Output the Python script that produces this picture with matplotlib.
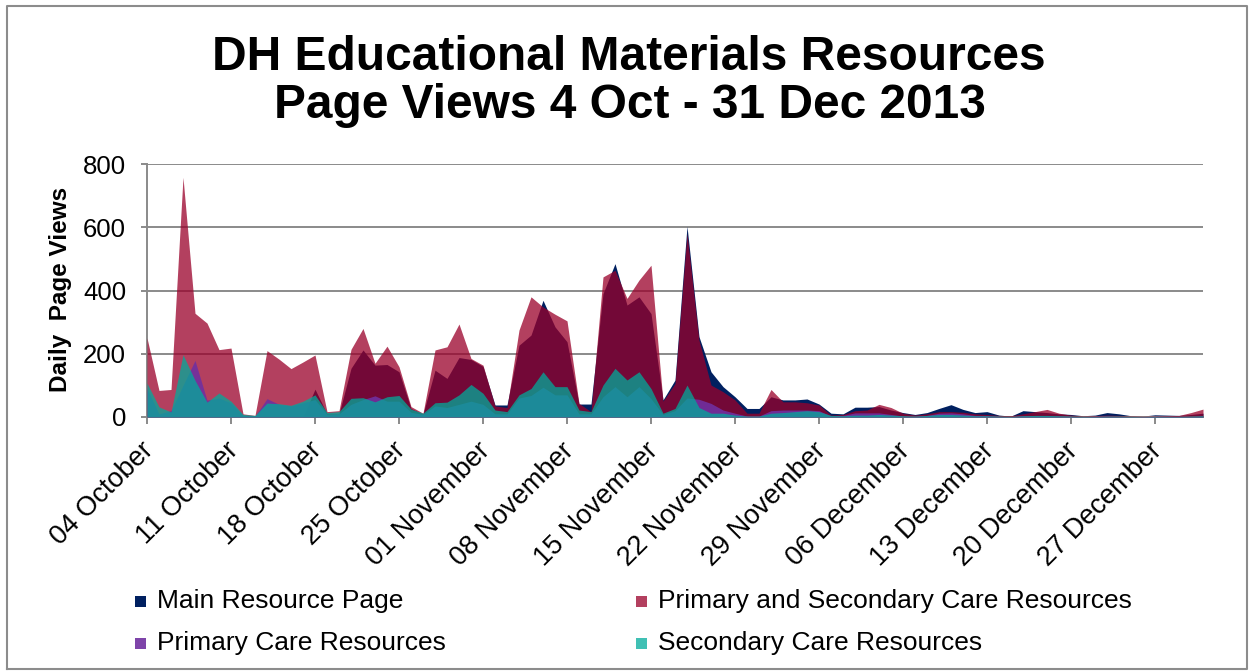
import numpy as np
import pandas as pd
import matplotlib
matplotlib.use("Agg")
import matplotlib.pyplot as plt
import matplotlib.dates as mdates
from matplotlib.patches import Rectangle
from matplotlib.lines import Line2D
from matplotlib.transforms import ScaledTranslation

plt.rcParams['font.family'] = ['Liberation Sans', 'DejaVu Sans']

# Daily page views, 4 Oct - 31 Dec 2013
dates = pd.date_range("2013-10-04", "2013-12-31", freq="D")

main_resource = [
    0, 0, 0, 0, 0, 0, 0, 0, 0, 0, 0, 0, 0, 0, 88, 10, 10, 154, 212, 164,
    166, 143, 27, 9, 148, 122, 188, 182, 160, 38, 38, 227, 259, 369, 285, 238,
    41, 41, 390, 485, 354, 380, 327, 54, 117, 603, 254, 143, 96, 64, 27, 27,
    64, 54, 54, 57, 41, 12, 10, 31, 31, 33, 22, 14, 8, 14, 27, 39, 24, 14,
    17, 6, 3, 20, 17, 14, 10, 8, 4, 6, 14, 10, 4, 3, 7, 6, 5, 8, 12,
]
primary_secondary = [
    250, 84, 87, 758, 328, 297, 213, 218, 10, 5, 210, 183, 153, 174, 196, 17,
    20, 214, 280, 170, 224, 159, 33, 12, 212, 222, 294, 185, 164, 35, 30, 275,
    380, 348, 325, 304, 43, 17, 443, 464, 375, 433, 480, 50, 106, 580, 243,
    101, 80, 54, 12, 12, 87, 48, 48, 45, 38, 6, 8, 20, 22, 40, 30, 12, 6, 10,
    17, 17, 15, 10, 8, 5, 4, 10, 17, 24, 12, 6, 3, 4, 6, 5, 3, 2, 3, 4, 5,
    14, 25,
]
primary_care = [
    90, 10, 20, 100, 179, 53, 60, 45, 5, 3, 58, 40, 35, 45, 55, 8, 10, 40, 55,
    67, 50, 50, 15, 8, 35, 30, 40, 50, 40, 10, 10, 60, 68, 94, 70, 70, 10, 10,
    64, 96, 64, 96, 58, 8, 20, 60, 56, 43, 22, 12, 3, 3, 20, 22, 22, 22, 20,
    3, 5, 13, 13, 13, 8, 3, 2, 5, 12, 13, 10, 5, 4, 2, 1, 4, 4, 4, 3, 2, 1, 2,
    3, 2, 1, 1, 2, 2, 2, 2, 3,
]
secondary_care = [
    107, 32, 16, 197, 116, 47, 76, 50, 8, 5, 44, 42, 37, 50, 70, 14, 17, 59,
    61, 48, 64, 68, 25, 12, 45, 47, 70, 103, 75, 22, 17, 70, 90, 143, 96, 96,
    22, 17, 101, 154, 117, 143, 90, 12, 27, 101, 30, 12, 12, 6, 3, 3, 12, 14,
    17, 20, 17, 5, 4, 6, 6, 8, 6, 4, 3, 5, 8, 8, 6, 4, 4, 3, 2, 4, 5, 5, 4, 3,
    2, 2, 3, 3, 2, 1, 2, 2, 2, 3, 4,
]

series_names = ["Main Resource Page", "Primary and Secondary Care Resources",
                "Primary Care Resources", "Secondary Care Resources"]
series_values = [main_resource, primary_secondary, primary_care, secondary_care]
series_colors = ["#002060", "#9a002a", "#7030a0", "#00ab9b"]
series_alpha = [1.0, 0.75, 0.9, 0.75]

y_ticks = [0, 200, 400, 600, 800]

W, H = 1249, 672
fig = plt.figure(figsize=(W / 100, H / 100), dpi=100)
fig.patch.set_facecolor("white")


def fx(px):
    return px / W


def fy(py):
    return 1 - py / H


ax = fig.add_axes([fx(147), fy(417), fx(1203) - fx(147), fy(164) - fy(417)])

for vals, col, a, z in zip(series_values, series_colors, series_alpha, range(4)):
    ax.fill_between(dates, 0, vals, color=col, alpha=a, linewidth=0, zorder=2 + z)

grid_col = "#8a8a8a"
ax.set_ylim(0, 800)
ax.set_xlim(dates[0], dates[-1])
ax.set_yticks(y_ticks)
ax.yaxis.grid(True, color=grid_col, linewidth=1.4)
ax.set_axisbelow(True)
for side in ("top", "right"):
    ax.spines[side].set_visible(False)
for side in ("left", "bottom"):
    ax.spines[side].set_color(grid_col)
    ax.spines[side].set_linewidth(1.4)

tick_dates = pd.date_range("2013-10-04", "2013-12-31", freq="7D")
ax.set_xticks(tick_dates)
ax.xaxis.set_major_formatter(mdates.DateFormatter("%d %B"))
ax.tick_params(axis="x", direction="out", length=5, width=1.4, color=grid_col,
               labelsize=19.5, pad=4)
ax.tick_params(axis="y", direction="out", length=4, width=1.4, color=grid_col,
               labelsize=18.5, pad=11)
offset = ScaledTranslation(-6 / 100, -8 / 100, fig.dpi_scale_trans)
for lbl in ax.get_xticklabels():
    lbl.set_rotation(45)
    lbl.set_ha("right")
    lbl.set_va("top")
    lbl.set_rotation_mode("anchor")
    lbl.set_transform(lbl.get_transform() + offset)

# Titles and axis label
fig.text(fx(629), fy(57), "DH Educational Materials Resources", ha="center",
         va="center", fontsize=34.5, fontweight="bold")
fig.text(fx(630), fy(105), "Page Views 4 Oct - 31 Dec 2013", ha="center",
         va="center", fontsize=34.5, fontweight="bold")
fig.text(fx(60), fy(289), "Daily  Page Views", ha="center", va="center",
         rotation=90, fontsize=17.5, fontweight="bold")

# Legend in two columns
legend_pos = [(135, 601), (636, 601), (135, 643), (636, 643)]
for (lx, ly), name, col, a in zip(legend_pos, series_names, series_colors, series_alpha):
    fig.add_artist(Rectangle((fx(lx), fy(ly + 6)), 11 / W, 11 / H,
                             transform=fig.transFigure, facecolor=col, alpha=a,
                             linewidth=0))
    fig.text(fx(lx + 22), fy(ly), name, ha="left", va="center", fontsize=19)

# Chart frame
frame_col = "#8c8c8c"
fx0, fx1, fy0, fy1 = fx(6.5), fx(1246.5), fy(669), fy(5.5)
fig.add_artist(Line2D([fx0, fx1, fx1, fx0, fx0], [fy0, fy0, fy1, fy1, fy0],
                      transform=fig.transFigure, color=frame_col, linewidth=1.5))

fig.savefig("out.png", dpi=100, facecolor="white")
